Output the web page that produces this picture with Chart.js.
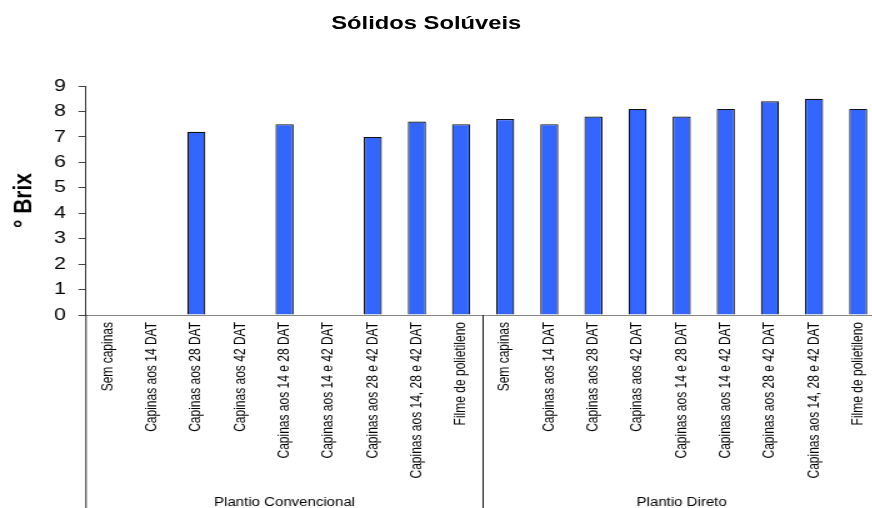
<!DOCTYPE html>
<html>
<head>
<meta charset="utf-8">
<title>Sólidos Solúveis</title>
<script src="https://cdn.jsdelivr.net/npm/chart.js@4.4.1/dist/chart.umd.min.js"></script>
<style>
  html, body { margin: 0; padding: 0; background: #fff; overflow: hidden; }
  /* the whole figure is drawn a bit narrow and widened, like the original export */
  #wrap { position: relative; width: 708px; height: 508px; transform: scaleX(1.25); transform-origin: 0 0; }
  #title {
    position: absolute; left: 0; top: 13px; width: 682px;
    text-align: center; color: #000;
    font: bold 19px "Liberation Sans", Arial, sans-serif; line-height: 19px;
  }
</style>
</head>
<body>
<div id="wrap">
  <canvas id="brixChart" width="708" height="508"></canvas>
  <div id="title">Sólidos Solúveis</div>
</div>
<script>
const FONT = '"Liberation Sans", Arial, sans-serif';

const tratamentos = [
  'Sem capinas',
  'Capinas aos 14 DAT',
  'Capinas aos 28 DAT',
  'Capinas aos 42 DAT',
  'Capinas aos 14 e 28 DAT',
  'Capinas aos 14 e 42 DAT',
  'Capinas aos 28 e 42 DAT',
  'Capinas aos 14, 28 e 42 DAT',
  'Filme de polietileno'
];
const sistemas = ['Plantio Convencional', 'Plantio Direto'];

// °Brix per treatment (null = not measured)
const brixConvencional = [null, null, 7.2, null, 7.5, null, 7.0, 7.6, 7.5];
const brixDireto = [7.7, 7.5, 7.8, 8.1, 7.8, 8.1, 8.4, 8.5, 8.1];

const yMin = 0;
const yMax = 9;
const yStep = 1;

const labels = sistemas.flatMap(() => tratamentos);
const valores = brixConvencional.concat(brixDireto);

// separator lines and system names under the rotated treatment labels
const groupLabels = {
  id: 'groupLabels',
  afterDraw(chart) {
    const x = chart.scales.x;
    const area = chart.chartArea;
    const ctx = chart.ctx;
    const per = tratamentos.length;
    const edges = [x.left];
    sistemas.forEach((s, g) => {
      const last = (g + 1) * per - 1;
      if (g === sistemas.length - 1) edges.push(x.right);
      else edges.push((x.getPixelForValue(last) + x.getPixelForValue(last + 1)) / 2);
    });

    ctx.save();
    ctx.strokeStyle = '#222';
    ctx.lineWidth = 1;
    edges.forEach(e => {
      ctx.beginPath();
      ctx.moveTo(e, area.bottom);
      ctx.lineTo(e, chart.height);
      ctx.stroke();
    });
    ctx.fillStyle = '#000';
    ctx.font = '12px ' + FONT;
    ctx.textAlign = 'center';
    ctx.textBaseline = 'alphabetic';
    sistemas.forEach((s, g) => {
      ctx.fillText(s, (edges[g] + edges[g + 1]) / 2, chart.height - 2);
    });
    ctx.restore();
  }
};

new Chart(document.getElementById('brixChart'), {
  type: 'bar',
  data: {
    labels: labels,
    datasets: [{
      data: valores,
      backgroundColor: '#3366ff',
      borderColor: '#111',
      borderWidth: 1.2,
      borderSkipped: 'bottom',
      categoryPercentage: 1,
      barPercentage: 0.41
    }]
  },
  options: {
    responsive: false,
    animation: false,
    layout: { padding: { top: 86, left: 4, right: 2, bottom: 21 } },
    plugins: {
      legend: { display: false },
      tooltip: { enabled: false }
    },
    scales: {
      x: {
        grid: { display: false, drawTicks: false },
        border: { color: '#888', width: 1 },
        ticks: {
          autoSkip: false,
          minRotation: 90,
          maxRotation: 90,
          padding: 7,
          color: '#000',
          font: { family: FONT, size: 12 }
        },
        afterFit: s => { s.height = 172; }
      },
      y: {
        min: yMin,
        max: yMax,
        grid: { drawOnChartArea: false, tickLength: 6, color: '#444' },
        border: { color: '#333', width: 1 },
        ticks: {
          stepSize: yStep,
          padding: 10,
          color: '#000',
          font: { family: FONT, size: 17 }
        },
        title: {
          display: true,
          text: '° Brix',
          color: '#000',
          font: { family: FONT, size: 21, weight: 'bold' },
          padding: { top: 3, bottom: 0 }
        },
        afterFit: s => { s.width = 64.8; }
      }
    }
  },
  plugins: [groupLabels]
});
</script>
</body>
</html>
